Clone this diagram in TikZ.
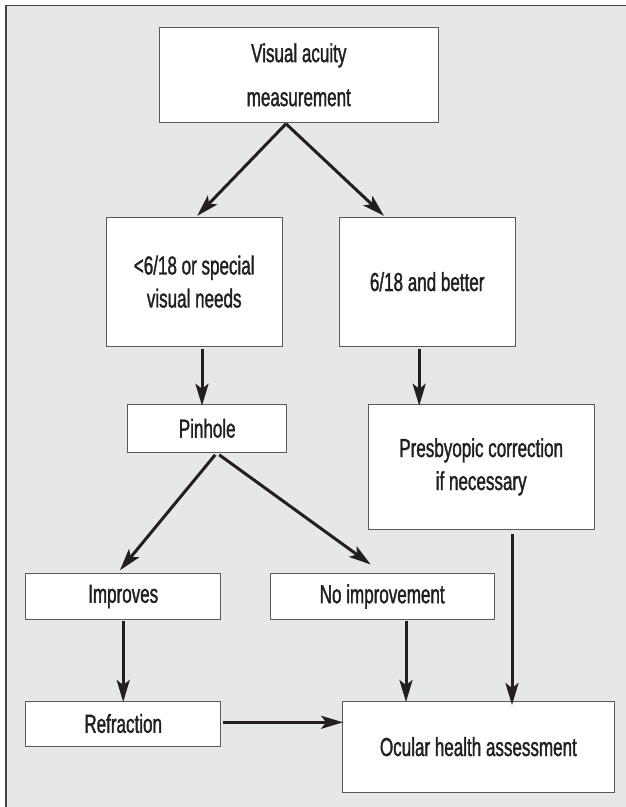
\documentclass[tikz,border=0pt]{standalone}
\usepackage{fontspec}
\setmainfont[FakeStretch=0.655,FakeBold=1.3]{Liberation Sans}
\usetikzlibrary{arrows.meta}
\definecolor{bg}{HTML}{E6E7E8}
\definecolor{ink}{HTML}{231F20}
\definecolor{boxline}{HTML}{58595B}
\begin{document}
\begin{tikzpicture}[x=1pt,y=-1pt,
  box/.style={draw=boxline, line width=1pt, fill=white, inner sep=0pt, align=center, text=ink,
    font={\fontsize{26}{33}\selectfont}},
  arr/.style={draw=ink, line width=3pt, -{Stealth[length=22pt,width=13pt,inset=5pt]}}]
\useasboundingbox (0,0) rectangle (626,807);
\fill[white] (0,0) rectangle (626,807);
\fill[bg] (6,5.5) rectangle (626,807);
\draw[ink!85, line width=1.5pt] (6,807) -- (6,5.5) -- (626,5.5);

\node[box, minimum width=278.4pt, minimum height=95pt, font={\fontsize{26}{44}\selectfont}] (top) at (298.8,74.8) {Visual acuity\\measurement};
\node[box, minimum width=176.4pt, minimum height=128.7pt] (lt) at (194.2,281.7) {<6/18 or special\\visual needs};
\node[box, minimum width=176pt, minimum height=128.7pt] (rt) at (427.2,281.7) {6/18 and better};
\node[box, minimum width=159.2pt, minimum height=48pt] (pin) at (207.2,428.3) {Pinhole};
\node[box, minimum width=226.4pt, minimum height=125pt] (pres) at (481.2,466.8) {Presbyopic correction\\if necessary};
\node[box, minimum width=195.2pt, minimum height=45.6pt] (imp) at (123.2,596.5) {Improves};
\node[box, minimum width=223.6pt, minimum height=45.6pt] (noimp) at (382.2,596.5) {No improvement};
\node[box, minimum width=195.2pt, minimum height=45pt] (ref) at (123.2,723.5) {Refraction};
\node[box, minimum width=272.8pt, minimum height=91.3pt] (oc) at (478.4,746.7) {Ocular health assessment};

\draw[arr] ([xshift=-12.8pt,yshift=-1pt]top.south) -- ([xshift=3pt,yshift=1pt]lt.north);
\draw[arr] ([xshift=-12.8pt,yshift=-1pt]top.south) -- ([xshift=-43.2pt,yshift=1pt]rt.north);
\draw[arr] ([xshift=7.8pt,yshift=-2pt]lt.south) -- ([xshift=7.8pt,yshift=-2pt]lt.south |- pin.north);
\draw[arr] ([xshift=-8pt,yshift=-2pt]rt.south) -- ([xshift=-8pt,yshift=-2pt]rt.south |- pres.north);
\draw[arr] ([xshift=8pt,yshift=-2pt]pin.south) -- ([xshift=-3.2pt,yshift=3pt]imp.north);
\draw[arr] ([xshift=12pt,yshift=-2pt]pin.south) -- ([xshift=-11.5pt,yshift=8.7pt]noimp.north);
\draw[arr] ([xshift=30.8pt,yshift=-4.5pt]pres.south) -- ([xshift=30.8pt,yshift=-4.5pt]pres.south |- oc.north);
\draw[arr] ([yshift=-1.5pt]imp.south) -- ([yshift=-1.5pt]imp.south |- ref.north);
\draw[arr] ([xshift=23.8pt,yshift=-1.5pt]noimp.south) -- ([xshift=23.8pt,yshift=-1.5pt]noimp.south |- oc.north);
\draw[arr] ([xshift=1.6pt,yshift=1.2pt]ref.east) -- ([xshift=1.6pt,yshift=1.2pt]ref.east -| oc.west);
\end{tikzpicture}
\end{document}
